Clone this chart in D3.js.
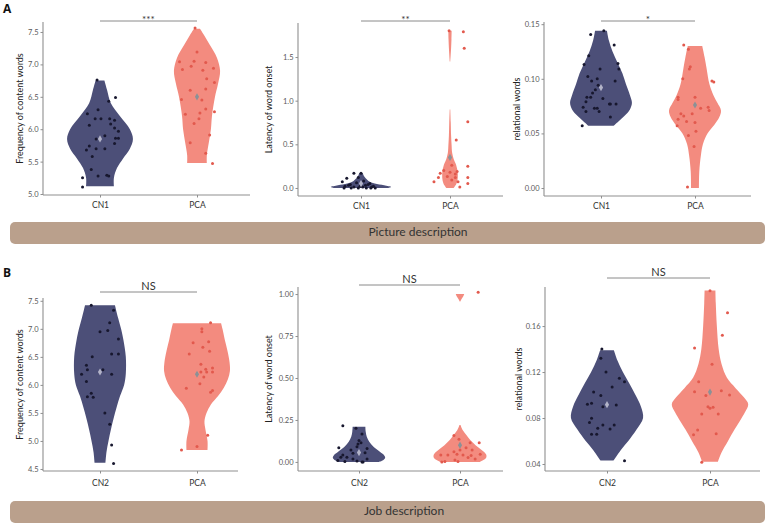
<!DOCTYPE html>
<html>
<head>
<meta charset="utf-8">
<script src="https://cdn.jsdelivr.net/npm/d3@7"></script>
<style>
body{margin:0;background:#fff}
svg{display:block}
</style>
</head>
<body>
<svg width="767" height="526"></svg>
<script>
// groups
const catsA = ["CN1","PCA"];
const catsB = ["CN2","PCA"];
const bandLabels = ["Picture description","Job description"];
const rowLetters = ["A","B"];

// tick values
const a1Ticks = [5.0,5.5,6.0,6.5,7.0,7.5];
const a2Ticks = [0,0.5,1.0,1.5];
const a3Ticks = [0,0.05,0.10,0.15];
const b1Ticks = [4.5,5.0,5.5,6.0,6.5,7.0,7.5];
const b2Ticks = [0,0.25,0.5,0.75,1.0];
const b3Ticks = [0.04,0.08,0.12,0.16];

// violin outlines: [value, relative density]
const a1CnViolin = [[5.12,.41],[5.25,.41],[5.4,.50],[5.55,.68],[5.7,.88],[5.85,.97],[6.0,.88],[6.2,.59],[6.4,.32],[6.6,.21],[6.75,.13]];
const a1PcaViolin = [[5.48,.29],[5.6,.29],[5.8,.35],[6.0,.41],[6.2,.44],[6.5,.53],[6.7,.62],[6.9,.68],[7.1,.59],[7.3,.38],[7.45,.21],[7.55,.09]];
const a2CnViolin = [[0.0,.88],[0.01,.97],[0.03,.74],[0.05,.44],[0.08,.24],[0.11,.15],[0.14,.09],[0.17,.06]];
const a2PcaViolin = [[0.0,.12],[0.05,.21],[0.12,.25],[0.2,.24],[0.28,.18],[0.33,.12],[0.4,.07],[0.5,.05],[0.6,.035],[0.75,.024],[0.9,.009],[0.95,0],[1.4,0],[1.45,.009],[1.6,.035],[1.7,.047],[1.8,.053]];
const a3CnViolin = [[0.057,.38],[0.061,.53],[0.066,.71],[0.072,.88],[0.078,.94],[0.085,.88],[0.095,.76],[0.105,.65],[0.115,.50],[0.125,.35],[0.135,.24],[0.144,.18]];
const a3PcaViolin = [[0.0,.12],[0.015,.13],[0.03,.18],[0.04,.24],[0.05,.38],[0.058,.59],[0.065,.74],[0.071,.79],[0.078,.68],[0.085,.56],[0.095,.44],[0.11,.35],[0.12,.29],[0.13,.22]];
const b1CnViolin = [[4.61,.16],[4.8,.19],[5.0,.25],[5.2,.32],[5.4,.40],[5.6,.49],[5.8,.59],[6.0,.71],[6.2,.76],[6.5,.76],[6.8,.69],[7.0,.62],[7.2,.53],[7.42,.44]];
const b1PcaViolin = [[4.84,.31],[5.0,.31],[5.2,.25],[5.35,.22],[5.5,.28],[5.65,.41],[5.8,.62],[5.95,.79],[6.1,.91],[6.25,.97],[6.4,.96],[6.6,.90],[6.8,.82],[7.0,.75],[7.10,.71]];
const b2CnViolin = [[0.0,.56],[0.01,.68],[0.025,.74],[0.04,.71],[0.06,.59],[0.09,.41],[0.12,.29],[0.15,.22],[0.18,.19],[0.21,.18]];
const b2PcaViolin = [[0.0,.56],[0.01,.65],[0.025,.74],[0.045,.74],[0.07,.62],[0.10,.44],[0.13,.29],[0.16,.18],[0.19,.074],[0.22,.015],[0.3,0],[0.94,0],[0.955,.009],[0.97,.044],[0.985,.09],[1.0,.12]];
const b3CnViolin = [[0.043,.18],[0.052,.38],[0.06,.59],[0.07,.82],[0.08,1.0],[0.09,.94],[0.10,.79],[0.11,.62],[0.12,.44],[0.13,.29],[0.139,.19]];
const b3PcaViolin = [[0.042,.22],[0.05,.32],[0.06,.50],[0.07,.68],[0.077,.82],[0.085,.97],[0.092,1.06],[0.098,.94],[0.106,.71],[0.115,.47],[0.127,.32],[0.14,.24],[0.16,.19],[0.18,.16],[0.191,.15]];

// individual subjects: [value, jitter in group steps]
const a1CnPts = [[6.76,-.03],[6.49,.16],[6.43,.09],[6.30,-.02],[6.24,-.13],[6.16,-.05],[6.16,.01],[6.16,.10],[6.14,.15],[6.06,-.11],[6.08,.11],[6.02,.15],[5.97,.19],[5.90,.05],[5.85,-.04],[5.86,.16],[5.86,.19],[5.78,.15],[5.74,-.11],[5.68,-.14],[5.70,-.04],[5.70,.05],[5.58,-.08],[5.38,-.09],[5.25,-.18],[5.28,-.02],[5.29,.07],[5.28,.09],[5.11,-.18]];
const a1PcaPts = [[7.56,-.02],[7.19,0],[7.04,-.18],[7.05,-.03],[7.03,.09],[6.97,-.06],[6.92,-.15],[6.91,.06],[6.94,.17],[6.78,.10],[6.72,.18],[6.60,-.07],[6.62,.09],[6.46,-.16],[6.45,.05],[6.23,-.12],[6.25,.03],[6.31,.09],[6.27,.18],[6.16,.02],[6.09,-.03],[5.91,.13],[5.79,-.07],[5.63,.09],[5.47,.16]];
const a2CnPts = [[0.17,-.08],[0.17,0],[0.11,-.16],[0.07,-.21],[0.06,-.05],[0.05,.10],[0.04,-.12],[0.03,.05],[0.02,-.18],[0.02,.14],[0.01,-.08],[0.01,.02],[0.0,-.19],[0.0,-.11],[0.0,-.03],[0.0,.06],[0.0,.11],[0.0,.16],[0.01,.12],[0.03,-.14],[0.04,.08],[0.02,-.01],[0.08,.03],[0.12,-.03]];
const a2PcaPts = [[1.80,-.01],[1.79,.15],[1.60,.16],[0.76,.20],[0.55,.07],[0.25,.20],[0.20,-.07],[0.17,-.11],[0.18,0],[0.16,.06],[0.19,.08],[0.12,-.13],[0.13,-.03],[0.12,.06],[0.12,.20],[0.07,-.18],[0.09,.02],[0.07,.09],[0.05,.20],[0.01,.11],[0.26,.02]];
const a3CnPts = [[0.1406,-.11],[0.144,.03],[0.131,.14],[0.121,-.13],[0.113,-.18],[0.114,.18],[0.109,-.01],[0.109,.19],[0.102,-.14],[0.100,-.04],[0.098,.15],[0.098,-.10],[0.094,-.03],[0.090,-.06],[0.087,-.09],[0.083,-.15],[0.083,-.11],[0.082,.02],[0.079,-.16],[0.077,.09],[0.077,.10],[0.077,.16],[0.074,-.19],[0.073,-.07],[0.073,-.04],[0.070,-.02],[0.070,-.16],[0.065,.10],[0.057,-.20]];
const a3PcaPts = [[0.131,-.12],[0.127,-.07],[0.111,-.05],[0.109,-.06],[0.100,-.13],[0.098,.18],[0.097,.20],[0.083,-.18],[0.081,-.18],[0.083,0],[0.073,.06],[0.074,.14],[0.071,.15],[0.068,-.15],[0.066,-.12],[0.063,-.18],[0.068,-.03],[0.061,-.09],[0.060,0],[0.057,-.19],[0.052,.01],[0.048,-.07],[0.038,-.01],[0.001,-.08]];
const b1CnPts = [[7.42,-.09],[7.33,.14],[7.11,.10],[6.95,0],[6.97,.08],[6.82,.19],[6.50,-.08],[6.55,.12],[6.55,.19],[6.35,-.14],[6.27,-.13],[6.27,.03],[6.19,-.19],[6.19,.12],[6.06,-.14],[5.85,-.09],[5.79,-.13],[5.78,-.07],[5.50,.05],[5.30,.10],[4.93,.12],[4.60,.14]];
const b1PcaPts = [[7.11,.14],[7.00,.05],[6.95,.05],[6.75,-.04],[6.77,.12],[6.67,.06],[6.60,.13],[6.55,-.08],[6.37,.04],[6.30,.16],[6.28,.09],[6.23,.10],[6.23,.04],[6.23,.16],[6.14,.07],[6.02,.03],[5.94,-.11],[5.90,.16],[5.87,.14],[5.10,.11],[4.90,0],[4.84,-.16]];
const b2CnPts = [[0.216,-.16],[0.20,-.03],[0.085,-.20],[0.167,.03],[0.127,0],[0.115,.02],[0.071,-.08],[0.107,-.01],[0.091,-.02],[0.042,-.16],[0.028,-.18],[0.028,-.12],[0.052,-.06],[0.054,.06],[0.018,-.06],[0.008,-.21],[0.002,-.14],[0.006,-.02],[0.0,.03],[0.0,.04],[0.018,.08],[0.08,.08]];
const b2PcaPts = [[1.01,.18],[0.157,-.06],[0.135,-.01],[0.115,.10],[0.115,.19],[0.085,.06],[0.071,.12],[0.071,0],[0.061,-.06],[0.042,-.12],[0.042,-.19],[0.046,-.03],[0.042,.03],[0.038,.11],[0.046,.20],[0.012,-.05],[0.002,-.15],[0.0,-.18],[0.002,-.02],[0.018,.15],[0.026,.08]];
const b3CnPts = [[0.140,-.05],[0.132,-.06],[0.120,-.01],[0.1145,.12],[0.1116,.17],[0.107,.05],[0.1026,-.13],[0.0997,-.06],[0.092,-.19],[0.0928,-.15],[0.0898,-.04],[0.0913,.09],[0.0797,-.15],[0.076,-.17],[0.0739,-.04],[0.071,-.09],[0.0704,.03],[0.0739,.07],[0.0658,-.15],[0.0658,-.10],[0.0429,.17]];
const b3PcaPts = [[0.1907,0],[0.1716,.17],[0.152,.12],[0.141,-.15],[0.1267,.02],[0.1116,-.11],[0.1029,-.15],[0.1038,.11],[0.0997,-.04],[0.100,.19],[0.0898,-.02],[0.0884,0],[0.0893,.03],[0.0835,-.08],[0.0835,.08],[0.0655,-.16],[0.0696,-.12],[0.0664,.06],[0.0415,-.08]];

// group means
const a1Means = [5.85,6.50];
const a2Means = [0.05,0.35];
const a3Means = [0.092,0.076];
const b1Means = [6.23,6.19];
const b2Means = [0.056,0.10];
const b3Means = [0.0916,0.1026];

const sigLabels = ["***","**","*","NS","NS","NS"];
const yTitles = ["Frequency of content words","Latency of word onset","relational words"];

const fills = ["#4c4f78","#f38b7f"];
const dotCols = ["#17172e","#e2594d"];
const meanCols = ["#b3b4c8","#8b9196"];

// layout of the six panels
const panels = [
  {cats:catsA, ticks:a1Ticks, fmt:".1f", dom:[4.985,7.654], v:[a1CnViolin,a1PcaViolin], p:[a1CnPts,a1PcaPts], m:a1Means, sig:sigLabels[0], title:yTitles[0],
   x0:43, x1:250, c:[100,197], yTop:22, yBot:195, tx:21, sy:21, pad:4},
  {cats:catsA, ticks:a2Ticks, fmt:".1f", dom:[-0.092,1.89], v:[a2CnViolin,a2PcaViolin], p:[a2CnPts,a2PcaPts], m:a2Means, sig:sigLabels[1], title:yTitles[1],
   x0:298, x1:503, c:[361,450], yTop:23, yBot:196, tx:270, sy:21, pad:4},
  {cats:catsA, ticks:a3Ticks, fmt:".2f", dom:[-0.0073,0.152], v:[a3CnViolin,a3PcaViolin], p:[a3CnPts,a3PcaPts], m:a3Means, sig:sigLabels[2], title:yTitles[2],
   x0:544, x1:751, c:[601,695], yTop:22, yBot:196, tx:518, sy:21, pad:4},
  {cats:catsB, ticks:b1Ticks, fmt:".1f", dom:[4.464,7.55], v:[b1CnViolin,b1PcaViolin], p:[b1CnPts,b1PcaPts], m:b1Means, sig:sigLabels[3], title:yTitles[0],
   x0:43, x1:238, c:[100,197], yTop:298, yBot:471, tx:21, sy:292, pad:6},
  {cats:catsB, ticks:b2Ticks, fmt:".2f", dom:[-0.054,1.042], v:[b2CnViolin,b2PcaViolin], p:[b2CnPts,b2PcaPts], m:b2Means, sig:sigLabels[4], title:yTitles[1],
   x0:298, x1:503, c:[359,460], yTop:287, yBot:471, tx:270, sy:285, pad:6},
  {cats:catsB, ticks:b3Ticks, fmt:".2f", dom:[0.0339,0.194], v:[b3CnViolin,b3PcaViolin], p:[b3CnPts,b3PcaPts], m:b3Means, sig:sigLabels[5], title:yTitles[2],
   x0:545, x1:760, c:[607,710], yTop:287, yBot:471, tx:520, sy:278, pad:6}
];

const svg = d3.select("svg");
const font = "Lato, 'Open Sans', sans-serif";

panels.forEach(p => {
  const x = d3.scalePoint().domain(p.cats).range(p.c);
  const step = p.c[1] - p.c[0];
  const y = d3.scaleLinear().domain(p.dom).range([p.yBot, p.yTop]);
  const w = d3.scaleLinear().domain([0,1]).range([0, step*0.35]);
  const g = svg.append("g");

  // axis lines
  g.append("line").attr("x1",p.x0).attr("x2",p.x1).attr("y1",p.yBot).attr("y2",p.yBot)
    .attr("stroke","#8f8f8f").attr("stroke-width",1.1);
  g.append("line").attr("x1",p.x0).attr("x2",p.x0).attr("y1",p.yTop).attr("y2",p.yBot)
    .attr("stroke","#8f8f8f").attr("stroke-width",1.1);

  const yAxis = g.append("g").attr("transform",`translate(${p.x0},0)`)
    .call(d3.axisLeft(y).tickValues(p.ticks).tickFormat(d3.format(p.fmt)).tickSize(2.5).tickPadding(2));
  yAxis.select(".domain").remove();
  yAxis.selectAll("line").attr("stroke","#8f8f8f");
  yAxis.selectAll("text").attr("fill","#5a5a5a").style("font-size","7.5px").style("font-family",font);

  const xAxis = g.append("g").attr("transform",`translate(0,${p.yBot})`)
    .call(d3.axisBottom(x).tickSize(2.5).tickPadding(p.pad));
  xAxis.select(".domain").remove();
  xAxis.selectAll("line").attr("stroke","#8f8f8f");
  xAxis.selectAll("text").attr("fill","#333").style("font-size","8.5px").style("font-family",font);

  // y title
  g.append("text").attr("transform",`translate(${p.tx},${(p.yTop+p.yBot)/2}) rotate(-90)`)
    .attr("text-anchor","middle").attr("dominant-baseline","middle")
    .style("font-family",font).style("font-size","9px").attr("fill","#222").text(p.title);

  // violins (split where the density is zero), points, means
  p.cats.forEach((c,i) => {
    const cx = x(c);
    const area = d3.area().curve(d3.curveCatmullRom).defined(d => d[1] > 0)
      .y(d => y(d[0])).x0(d => cx - w(d[1])).x1(d => cx + w(d[1]));
    g.append("path").datum(p.v[i]).attr("d",area).attr("fill",fills[i]);

    g.selectAll(null).data(p.p[i]).enter().append("circle")
      .attr("cx", d => cx + d[1]*step).attr("cy", d => y(d[0])).attr("r",1.5)
      .attr("fill",dotCols[i]);

    g.append("path").attr("d", d3.symbol(d3.symbolDiamond, 15)())
      .attr("transform",`translate(${cx},${y(p.m[i])})`).attr("fill",meanCols[i]);
  });

  // significance bar
  g.append("line").attr("x1",x(p.cats[0])).attr("x2",x(p.cats[1])).attr("y1",p.sy).attr("y2",p.sy)
    .attr("stroke","#8a8a8a").attr("stroke-width",1);
  g.append("text").attr("x",(x(p.cats[0])+x(p.cats[1]))/2).attr("y",p.sig==="NS" ? p.sy-2 : p.sy+2)
    .attr("text-anchor","middle").style("font-family",font)
    .style("font-size",p.sig==="NS" ? "11px" : "10px").attr("fill","#333").text(p.sig);
});

// row letters
const letterY = [13,277];
rowLetters.forEach((l,i) => {
  svg.append("text").attr("x",3).attr("y",letterY[i]).text(l)
    .style("font-family","'Open Sans', sans-serif").style("font-weight","bold").style("font-size","12px").attr("fill","#111");
});

// description bands
const bandY = [222,501];
const bandTextX = [418,404];
bandLabels.forEach((t,i) => {
  svg.append("rect").attr("x",10).attr("y",bandY[i]).attr("width",755).attr("height",22)
    .attr("rx",5).attr("fill","#baa08c");
  svg.append("text").attr("x",bandTextX[i]).attr("y",bandY[i]+11).attr("text-anchor","middle")
    .attr("dominant-baseline","middle").style("font-family",font).style("font-size","12px")
    .attr("fill","#333").text(t);
});
</script>
</body>
</html>
